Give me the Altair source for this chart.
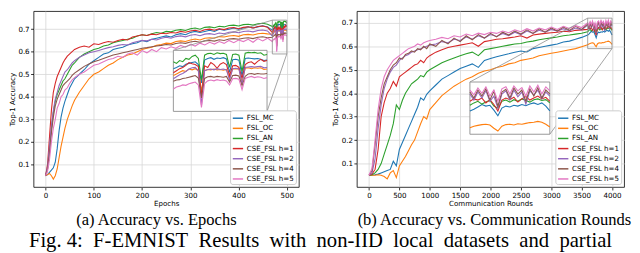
import altair as alt
import pandas as pd

SERIES = ["FSL_MC", "FSL_OC", "FSL_AN", "CSE_FSL h=1", "CSE_FSL h=2", "CSE_FSL h=4", "CSE_FSL h=5"]
COLORS = ["#1f77b4", "#ff7f0e", "#2ca02c", "#d62728", "#9467bd", "#8c564b", "#e377c2"]

# ---------------- panel (a): accuracy vs. epochs ----------------
EPOCHS = [0, 4, 8, 12, 16, 20, 24, 28, 32, 36, 40, 45, 50, 55,
          60, 70, 80, 90, 100, 110, 120, 130, 140, 150, 160, 170, 180, 190, 200,
          210, 220, 230, 240, 250, 260, 270, 280, 290, 300, 310, 320, 330, 340,
          350, 360, 370, 380, 390, 400, 410, 420, 430, 440, 450, 460,
          470, 471, 472, 473, 474, 475, 476, 477, 478, 479, 480, 481, 482, 483,
          484, 485, 486, 487, 488, 489, 490, 491, 492, 493, 494, 495, 496, 497,
          498, 499, 500]

A_MC = [0.05, 0.055, 0.065, 0.075, 0.085, 0.11, 0.17, 0.25, 0.31, 0.35, 0.38, 0.41, 0.44, 0.46,
        0.48, 0.5, 0.52, 0.545, 0.56, 0.575, 0.59, 0.595, 0.61, 0.615, 0.62, 0.63, 0.635, 0.64, 0.65,
        0.645, 0.655, 0.66, 0.665, 0.67, 0.665, 0.675, 0.68, 0.675, 0.685, 0.69, 0.685, 0.69, 0.695,
        0.69, 0.7, 0.695, 0.7, 0.705, 0.7, 0.705, 0.71, 0.705, 0.71, 0.715, 0.71,
        0.695, 0.698, 0.702, 0.7, 0.706, 0.708, 0.71, 0.712, 0.705, 0.66, 0.716, 0.72, 0.722, 0.718,
        0.721, 0.72, 0.722, 0.719, 0.686, 0.717, 0.718, 0.716, 0.678, 0.72, 0.721, 0.72, 0.719, 0.72,
        0.718, 0.715, 0.716]
A_OC = [0.05, 0.055, 0.06, 0.05, 0.035, 0.05, 0.08, 0.13, 0.18, 0.22, 0.26, 0.3, 0.33, 0.36,
        0.385, 0.42, 0.45, 0.48, 0.5, 0.51, 0.525, 0.54, 0.55, 0.565, 0.575, 0.585, 0.59, 0.6, 0.61,
        0.615, 0.62, 0.628, 0.632, 0.638, 0.636, 0.645, 0.648, 0.645, 0.652, 0.656, 0.652, 0.66, 0.662,
        0.66, 0.667, 0.665, 0.67, 0.672, 0.668, 0.675, 0.677, 0.674, 0.68, 0.682, 0.679,
        0.678, 0.682, 0.686, 0.69, 0.688, 0.694, 0.692, 0.695, 0.69, 0.64, 0.69, 0.693, 0.692, 0.694,
        0.692, 0.693, 0.691, 0.693, 0.671, 0.695, 0.694, 0.695, 0.661, 0.696, 0.697, 0.695, 0.697, 0.696,
        0.697, 0.693, 0.694]
A_AN = [0.05, 0.08, 0.15, 0.26, 0.33, 0.38, 0.41, 0.43, 0.45, 0.47, 0.48, 0.5, 0.52, 0.54,
        0.55, 0.575, 0.59, 0.6, 0.61, 0.615, 0.625, 0.63, 0.64, 0.645, 0.65, 0.655, 0.66, 0.67, 0.675,
        0.672, 0.68, 0.685, 0.682, 0.69, 0.688, 0.695, 0.698, 0.694, 0.702, 0.705, 0.7, 0.708, 0.71,
        0.706, 0.713, 0.71, 0.716, 0.718, 0.714, 0.72, 0.722, 0.718, 0.724, 0.726, 0.722,
        0.712, 0.708, 0.715, 0.712, 0.72, 0.718, 0.725, 0.728, 0.72, 0.667, 0.728, 0.732, 0.733, 0.73,
        0.734, 0.732, 0.733, 0.73, 0.698, 0.73, 0.731, 0.728, 0.688, 0.733, 0.735, 0.734, 0.735, 0.733,
        0.734, 0.728, 0.73]
A_H1 = [0.05, 0.1, 0.22, 0.34, 0.42, 0.46, 0.49, 0.51, 0.53, 0.55, 0.565, 0.58, 0.59, 0.6,
        0.61, 0.62, 0.625, 0.62, 0.635, 0.632, 0.64, 0.645, 0.642, 0.65, 0.655, 0.652, 0.665, 0.67, 0.675,
        0.672, 0.678, 0.675, 0.682, 0.68, 0.685, 0.683, 0.69, 0.686, 0.692, 0.695, 0.69, 0.697, 0.7,
        0.695, 0.702, 0.698, 0.705, 0.707, 0.702, 0.708, 0.71, 0.705, 0.712, 0.714, 0.708,
        0.685, 0.69, 0.695, 0.698, 0.703, 0.71, 0.707, 0.705, 0.7, 0.627, 0.702, 0.698, 0.71, 0.705,
        0.696, 0.706, 0.71, 0.705, 0.678, 0.702, 0.703, 0.698, 0.671, 0.705, 0.71, 0.712, 0.706, 0.713,
        0.718, 0.713, 0.715]
A_H2 = [0.05, 0.09, 0.18, 0.27, 0.34, 0.39, 0.42, 0.45, 0.47, 0.49, 0.51, 0.52, 0.535, 0.55,
        0.56, 0.575, 0.585, 0.595, 0.6, 0.605, 0.612, 0.618, 0.622, 0.628, 0.632, 0.63, 0.64, 0.645, 0.65,
        0.648, 0.655, 0.652, 0.66, 0.664, 0.66, 0.667, 0.67, 0.666, 0.673, 0.676, 0.671, 0.678, 0.68,
        0.676, 0.683, 0.68, 0.686, 0.688, 0.684, 0.69, 0.692, 0.688, 0.694, 0.696, 0.692,
        0.67, 0.675, 0.68, 0.683, 0.688, 0.694, 0.697, 0.698, 0.69, 0.605, 0.69, 0.693, 0.694, 0.692,
        0.695, 0.693, 0.694, 0.692, 0.667, 0.695, 0.696, 0.694, 0.657, 0.698, 0.699, 0.7, 0.699, 0.7,
        0.701, 0.697, 0.698]
A_H4 = [0.05, 0.08, 0.15, 0.24, 0.31, 0.36, 0.39, 0.41, 0.43, 0.45, 0.46, 0.47, 0.48, 0.495,
        0.505, 0.52, 0.535, 0.545, 0.555, 0.562, 0.57, 0.578, 0.585, 0.59, 0.595, 0.6, 0.605, 0.61, 0.615,
        0.618, 0.622, 0.625, 0.628, 0.632, 0.63, 0.636, 0.64, 0.637, 0.643, 0.646, 0.642, 0.648, 0.65,
        0.647, 0.653, 0.65, 0.656, 0.658, 0.655, 0.66, 0.662, 0.658, 0.664, 0.666, 0.662,
        0.664, 0.667, 0.668, 0.671, 0.672, 0.674, 0.676, 0.678, 0.672, 0.623, 0.671, 0.675, 0.676, 0.674,
        0.676, 0.675, 0.674, 0.676, 0.662, 0.678, 0.679, 0.677, 0.653, 0.676, 0.682, 0.683, 0.681, 0.683,
        0.682, 0.682, 0.683]
A_H5 = [0.05, 0.07, 0.12, 0.2, 0.26, 0.3, 0.35, 0.37, 0.4, 0.41, 0.43, 0.44, 0.46, 0.475,
        0.485, 0.5, 0.51, 0.525, 0.54, 0.545, 0.555, 0.565, 0.57, 0.58, 0.575, 0.59, 0.595, 0.585, 0.605,
        0.595, 0.61, 0.6, 0.618, 0.612, 0.622, 0.615, 0.628, 0.62, 0.633, 0.625, 0.638, 0.63, 0.642,
        0.634, 0.645, 0.637, 0.65, 0.64, 0.652, 0.645, 0.655, 0.642, 0.658, 0.648, 0.66,
        0.645, 0.65, 0.652, 0.655, 0.654, 0.658, 0.66, 0.662, 0.655, 0.6, 0.658, 0.665, 0.667, 0.665,
        0.668, 0.666, 0.667, 0.665, 0.655, 0.67, 0.671, 0.669, 0.643, 0.671, 0.674, 0.676, 0.673, 0.675,
        0.674, 0.671, 0.673]

# ---------------- panel (b): accuracy vs. communication rounds ----------------
ROUNDS = [0, 50, 100, 150, 200, 250, 300, 350, 400, 450, 500, 550, 600, 650, 700, 750, 800, 850,
          900, 950, 1000,
          1100, 1200, 1300, 1400, 1500, 1600, 1700, 1800, 1900, 2000, 2100, 2200, 2300, 2400,
          2500, 2600, 2700, 2800, 2900, 3000, 3100, 3200, 3300, 3400, 3500,
          3600, 3620, 3640, 3660, 3680, 3700, 3720, 3740, 3760, 3780, 3800, 3820, 3840, 3860,
          3880, 3900, 3920, 3940, 3960, 3980, 4000]

B_MC = [0.05, 0.05, 0.052, 0.055, 0.06, 0.065, 0.07, 0.075, 0.11, 0.09, 0.16, 0.19, 0.22, 0.25,
        0.28, 0.31, 0.34, 0.38, 0.37, 0.395, 0.41,
        0.435, 0.46, 0.475, 0.49, 0.505, 0.515, 0.525, 0.51, 0.54, 0.548, 0.555, 0.562, 0.568, 0.575,
        0.58, 0.576, 0.59, 0.595, 0.6, 0.605, 0.61, 0.618, 0.622, 0.63, 0.638,
        0.648, 0.652, 0.658, 0.664, 0.66, 0.662, 0.65, 0.636, 0.655, 0.66, 0.658, 0.662, 0.66, 0.664,
        0.661, 0.665, 0.668, 0.664, 0.668, 0.66, 0.648]
B_OC = [0.05, 0.05, 0.05, 0.052, 0.05, 0.045, 0.035, 0.06, 0.07, 0.04, 0.09, 0.11, 0.13, 0.155,
        0.18, 0.2, 0.235, 0.27, 0.3, 0.29, 0.33,
        0.36, 0.39, 0.41, 0.43, 0.445, 0.46, 0.47, 0.485, 0.495, 0.5, 0.51, 0.515, 0.525, 0.53,
        0.54, 0.545, 0.55, 0.56, 0.565, 0.57, 0.575, 0.58, 0.585, 0.59, 0.598,
        0.606, 0.61, 0.612, 0.614, 0.615, 0.613, 0.605, 0.598, 0.61, 0.614, 0.615, 0.613, 0.616, 0.615,
        0.617, 0.619, 0.62, 0.622, 0.62, 0.615, 0.608]
B_AN = [0.05, 0.052, 0.06, 0.075, 0.1, 0.14, 0.18, 0.22, 0.27, 0.35, 0.33, 0.37, 0.4, 0.42,
        0.44, 0.45, 0.46, 0.475, 0.47, 0.49, 0.5,
        0.515, 0.53, 0.54, 0.55, 0.56, 0.568, 0.575, 0.56, 0.585, 0.59, 0.595, 0.6, 0.605, 0.61,
        0.612, 0.618, 0.622, 0.628, 0.632, 0.636, 0.64, 0.645, 0.648, 0.652, 0.656,
        0.662, 0.668, 0.672, 0.665, 0.67, 0.674, 0.66, 0.655, 0.672, 0.675, 0.67, 0.676, 0.672, 0.678,
        0.674, 0.67, 0.676, 0.678, 0.674, 0.676, 0.668]
B_H1 = [0.05, 0.055, 0.075, 0.16, 0.3, 0.36, 0.4, 0.42, 0.45, 0.43, 0.47, 0.48, 0.49, 0.5,
        0.51, 0.52, 0.525, 0.54, 0.53, 0.55, 0.56,
        0.575, 0.585, 0.595, 0.6, 0.605, 0.61, 0.615, 0.6, 0.62, 0.625, 0.63, 0.632, 0.636, 0.64,
        0.645, 0.635, 0.648, 0.652, 0.655, 0.658, 0.66, 0.664, 0.662, 0.668, 0.67,
        0.672, 0.678, 0.675, 0.68, 0.668, 0.676, 0.664, 0.648, 0.675, 0.68, 0.676, 0.682, 0.67, 0.678,
        0.684, 0.675, 0.68, 0.685, 0.678, 0.682, 0.672]
B_H2 = [0.05, 0.06, 0.12, 0.25, 0.35, 0.42, 0.46, 0.49, 0.51, 0.52, 0.54, 0.55, 0.56, 0.565,
        0.575, 0.58, 0.585, 0.59, 0.595, 0.6, 0.605,
        0.61, 0.62, 0.615, 0.63, 0.625, 0.64, 0.63, 0.645, 0.635, 0.65, 0.642, 0.655, 0.645, 0.66,
        0.65, 0.665, 0.655, 0.668, 0.66, 0.672, 0.664, 0.675, 0.666, 0.678, 0.67,
        0.69, 0.675, 0.695, 0.68, 0.698, 0.672, 0.685, 0.655, 0.69, 0.698, 0.675, 0.7, 0.683, 0.695,
        0.665, 0.698, 0.688, 0.7, 0.678, 0.695, 0.685]
B_H4 = [0.05, 0.07, 0.18, 0.3, 0.38, 0.44, 0.47, 0.5, 0.52, 0.53, 0.55, 0.545, 0.565, 0.57,
        0.58, 0.575, 0.59, 0.585, 0.6, 0.59, 0.61,
        0.6, 0.625, 0.61, 0.635, 0.62, 0.645, 0.628, 0.65, 0.635, 0.655, 0.64, 0.66, 0.648, 0.665,
        0.652, 0.67, 0.655, 0.675, 0.66, 0.678, 0.665, 0.682, 0.668, 0.685, 0.672,
        0.695, 0.68, 0.7, 0.685, 0.703, 0.675, 0.697, 0.66, 0.695, 0.702, 0.68, 0.705, 0.69, 0.7,
        0.672, 0.703, 0.685, 0.706, 0.68, 0.7, 0.69]
B_H5 = [0.05, 0.08, 0.2, 0.33, 0.42, 0.47, 0.5, 0.52, 0.54, 0.55, 0.56, 0.57, 0.58, 0.59,
        0.595, 0.6, 0.61, 0.605, 0.615, 0.62, 0.625,
        0.63, 0.638, 0.632, 0.645, 0.64, 0.652, 0.645, 0.656, 0.65, 0.66, 0.655, 0.665, 0.658, 0.67,
        0.662, 0.675, 0.665, 0.678, 0.67, 0.682, 0.672, 0.685, 0.676, 0.688, 0.68,
        0.7, 0.688, 0.705, 0.692, 0.708, 0.685, 0.7, 0.672, 0.703, 0.708, 0.69, 0.71, 0.698, 0.706,
        0.685, 0.71, 0.695, 0.712, 0.69, 0.708, 0.698]

Y_TICKS = [0.1, 0.2, 0.3, 0.4, 0.5, 0.6, 0.7]
X_TICKS_A = [0, 100, 200, 300, 400, 500]
X_TICKS_B = [0, 500, 1000, 1500, 2000, 2500, 3000, 3500, 4000]

CAPTION_A = "(a) Accuracy vs. Epochs"
CAPTION_B = "(b) Accuracy vs. Communication Rounds"
FIG_WORDS = ["Fig.\u00a04:", "F-EMNIST", "Results", "with", "non-IID", "local", "datasets", "and", "partial"]

# ---------------- layout ----------------
W_A, W_B, H = 270, 272, 179
GRAY = "#8c8c8c"


def long_frame(xs, series_values):
    rows = []
    for name, vals in zip(SERIES, series_values, strict=True):
        for xv, yv in zip(xs, vals, strict=True):
            rows.append({"x": xv, "acc": yv, "series": name})
    return pd.DataFrame(rows)


def panel(df, W, xdom, ydom, xticks, xtitle, zx, zy, frac, caption, cap_dx, extra=None):
    xs = alt.Scale(domain=xdom, nice=False, zero=False)
    ys = alt.Scale(domain=ydom, nice=False, zero=False)
    xaxis = alt.Axis(values=xticks, title=xtitle, format="d", grid=True, labelFlush=False)
    yaxis = alt.Axis(values=Y_TICKS, title="Top-1 Accuracy", format=".1f", grid=True, labelFlush=False)
    color = alt.Color(
        "series:N", sort=SERIES,
        scale=alt.Scale(domain=SERIES, range=COLORS),
        legend=alt.Legend(title=None, orient="bottom-right", offset=3, fillColor="white",
                          strokeColor="#cccccc", cornerRadius=2.5, padding=2,
                          labelFontSize=7.2, labelFont="DejaVu Sans", labelColor="black",
                          symbolType="stroke", symbolStrokeWidth=1.5, symbolSize=110,
                          rowPadding=0.3, labelOffset=3),
    )
    lines = alt.Chart(df).mark_line(strokeWidth=1.1).encode(
        x=alt.X("x:Q", scale=xs, axis=xaxis),
        y=alt.Y("acc:Q", scale=ys, axis=yaxis),
        color=color,
    )
    ix0, ix1 = frac[0] * W, frac[1] * W
    iy0, iy1 = frac[2] * H, frac[3] * H
    box = pd.DataFrame({"x": [zx[0]], "x_end": [zx[1]], "acc": [zy[0]], "acc_end": [zy[1]]})
    src = alt.Chart(box).mark_rect(fillOpacity=0, stroke=GRAY, strokeWidth=0.8).encode(
        x=alt.X("x:Q", scale=xs, axis=xaxis), x2="x_end:Q",
        y=alt.Y("acc:Q", scale=ys, axis=yaxis), y2="acc_end:Q")
    c1 = alt.Chart(pd.DataFrame({"x": [zx[0]], "acc": [zy[1]]})).mark_rule(color=GRAY, strokeWidth=0.8).encode(
        x=alt.X("x:Q", scale=xs, axis=xaxis), y=alt.Y("acc:Q", scale=ys, axis=yaxis),
        x2=alt.value(ix0), y2=alt.value(iy0))
    c2 = alt.Chart(pd.DataFrame({"x": [zx[1]], "acc": [zy[0]]})).mark_rule(color=GRAY, strokeWidth=0.8).encode(
        x=alt.X("x:Q", scale=xs, axis=xaxis), y=alt.Y("acc:Q", scale=ys, axis=yaxis),
        x2=alt.value(ix1), y2=alt.value(iy1))
    ibg = alt.Chart(pd.DataFrame({"k": [0]})).mark_rect(fill="white", stroke=GRAY, strokeWidth=0.9).encode(
        x=alt.value(ix0), x2=alt.value(ix1), y=alt.value(iy0), y2=alt.value(iy1))
    cap = alt.Chart(pd.DataFrame({"t": [caption]})).mark_text(
        font="Liberation Serif", fontSize=16.8, align="center", baseline="middle", color="black"
    ).encode(text="t:N", x=alt.value(W / 2 + cap_dx), y=alt.value(212.5))
    layers = [lines, src, c1, c2, ibg, cap]
    if extra is not None:
        layers.append(extra)
    main = alt.layer(*layers)
    tail = df[(df["x"] >= zx[0]) & (df["x"] <= zx[1])]
    ilines = alt.Chart(tail).mark_line(strokeWidth=1.1).encode(
        x=alt.X("x:Q", scale=alt.Scale(domain=zx, range=[ix0, ix1], nice=False, zero=False), axis=None),
        y=alt.Y("acc:Q", scale=alt.Scale(domain=zy, range=[iy1, iy0], nice=False, zero=False), axis=None),
        color=alt.Color("series:N", sort=SERIES, scale=alt.Scale(domain=SERIES, range=COLORS), legend=None),
    )
    return alt.layer(main, ilines).resolve_scale(x="independent", y="independent").properties(width=W, height=H)


df_a = long_frame(EPOCHS, [A_MC, A_OC, A_AN, A_H1, A_H2, A_H4, A_H5])
df_b = long_frame(ROUNDS, [B_MC, B_OC, B_AN, B_H1, B_H2, B_H4, B_H5])

fig_caption = alt.Chart(pd.DataFrame({"t": ["\u2002".join(FIG_WORDS)]})).mark_text(
    font="Liberation Serif", fontSize=21, align="center", baseline="alphabetic", color="black"
).encode(text="t:N", x=alt.value(292), y=alt.value(240.5))

pa = panel(df_a, W_A, [-25, 525], [0.0, 0.78], X_TICKS_A, "Epochs",
           [470, 500], [0.59, 0.74], (0.527, 0.88, 0.223, 0.57), CAPTION_A, -10, fig_caption)
pb = panel(df_b, W_B, [-200, 4200], [0.0, 0.75], X_TICKS_B, "Communication Rounds",
           [3600, 4000], [0.59, 0.72], (0.423, 0.722, 0.403, 0.70), CAPTION_B, 4)

chart = (
    alt.hconcat(pa, pb, spacing=59, bounds="flush", padding=0)
    .resolve_scale(color="independent")
    .configure(font="DejaVu Sans")
    .configure_view(stroke="black", strokeWidth=0.8)
    .configure_axis(labelFont="DejaVu Sans", titleFont="DejaVu Sans", labelFontSize=7.2,
                    titleFontSize=7.2, titleFontWeight="normal", labelColor="black",
                    titleColor="black", tickColor="black", tickSize=3, tickWidth=0.8,
                    domain=False, gridColor="#d6d6d6", gridWidth=0.8,
                    labelPadding=1.5, titlePadding=1.5)
)

chart.save("out.html", embed_options={"renderer": "svg", "actions": False})
